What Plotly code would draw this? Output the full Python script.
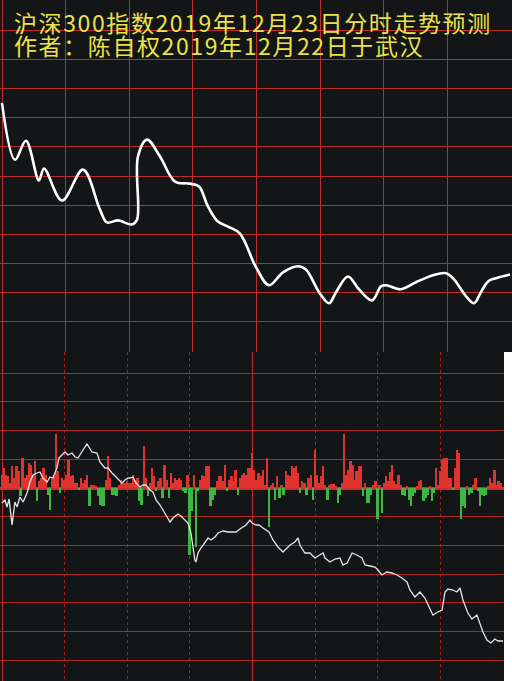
import plotly.graph_objects as go

title_line1 = "沪深300指数2019年12月23日分时走势预测"
title_line2 = "作者：陈自权2019年12月22日于武汉"

# top panel: forecast curve (minutes after 9:30, value in grid units)
forecast_minute = [0, 6.1, 11.3, 17.4, 19.8, 28.3, 38.2, 46.2, 49.5, 54.7,
                   61.3, 63.7, 64.1, 68.4, 74.5, 81.6, 88.6, 92.9, 97.1, 101.8,
                   106.6, 112.2, 119.8, 125.9, 132.5, 139.6, 143.3, 149.5, 154.2, 157.5,
                   163.1, 168.3, 174.5, 178.7, 181.1, 188.1, 195.2, 203.2, 209.4, 213.1,
                   218.8, 222.6, 225.8, 229.2, 232.9, 239.5]
forecast_value = [8.51, 6.56, 7.21, 5.85, 6.26, 5.16, 6.22, 4.85, 4.41, 4.48,
                  4.34, 4.51, 6.67, 7.25, 6.67, 5.81, 5.74, 5.64, 4.96, 4.44,
                  4.27, 4.03, 2.87, 2.26, 2.70, 2.91, 2.80, 2.02, 1.64, 2.02,
                  2.56, 2.12, 1.74, 2.22, 2.26, 2.12, 2.36, 2.60, 2.67, 2.46,
                  1.88, 1.64, 2.02, 2.39, 2.50, 2.63]

# bottom panel: per-minute flow bars (positive red, negative green)
flow_value = [
    13, 20, 13, 12, 5, 22, 10, 22, 17, -8,
    30, 10, 13, 25, 23, 13, 27, -13, 7, 10,
    20, 13, -7, -22, 10, 12, 54, 17, -5, 10,
    8, 13, 28, 12, 13, 5, 5, -2, 10, 5,
    8, 13, -18, 3, 3, 2, -8, -17, -18, -18,
    8, 32, 10, -7, -7, -8, 3, 8, 5, 5,
    7, 5, 5, 13, 8, 10, -13, -17, 42, 10,
    -8, 5, 20, 12, -3, 7, 10, -10, 23, 8,
    -10, 15, 5, 10, 8, 10, 8, -3, -5, 13,
    -67, -23, 13, -59, -3, 8, 13, 12, 22, 22,
    -18, -12, -7, 7, 12, 12, 7, 23, -3, 8,
    12, 7, 18, -7, 10, 13, 15, 13, 20, 20,
    35, 18, 8, 15, 12, 18, 3, 30, -39, 3,
    5, -12, 12, -10, 3, -7, 17, 13, 12, 22,
    20, 22, 15, -5, 7, 5, -7, 10, 13, -12,
    38, 13, 5, 12, 22, 3, -12, 3, 4, 4,
    2, -15, -7, 5, 54, 13, 18, 27, 23, 8,
    17, 22, 22, -8, 5, -15, -15, -7, 3, 7,
    -31, 3, -25, 5, 12, 7, 16, 23, 7, 4,
    13, 3, -7, -8, 2, -12, -18, -8, -5, 2,
    7, 8, -13, -10, -7, 2, -13, -5, 20, 3,
    17, 28, 30, 30, 10, 10, -2, 20, 38, 35,
    -31, -18, -20, 2, -7, -5, 3, 10, -3, -18,
    -7, -8, -7, 2, 10, 5, 18, 3, 7, 5,
]
flow_minute = list(range(len(flow_value)))

# bottom panel: actual index line
idx_minute = [0, 1.4, 2.4, 3.4, 4.8, 6.2, 7.2, 8.6, 10.1, 12,
              13.4, 14.8, 16.8, 18.2, 19.6, 21.6, 23, 24.4, 26.3, 27.3,
              28.7, 30.2, 31.6, 33.5, 35, 36.4, 38.8, 40.7, 43.1, 45.5,
              46.9, 49.3, 50.8, 52.7, 55.1, 57.5, 58.9, 60.4, 61.3, 62.7,
              64.2, 66.1, 67.5, 69, 70.9, 72.3, 73.8, 75.7, 77.1, 78.6,
              80.5, 81.9, 84.3, 85.7, 87.7, 89.1, 90.5, 91.5, 92.4, 92.9,
              93.9, 95.3, 97.2, 98.7, 100.1, 102, 103.5, 105.9, 108.3, 110.6,
              112.1, 114, 115.4, 116.9, 118.8, 119.8, 121.7, 123.1, 125, 126.5,
              127.9, 129.8, 132.2, 134.6, 138, 140.3, 141.8, 142.7, 145.1, 147.5,
              149.9, 151.4, 153.8, 154.7, 157.1, 159.5, 161.9, 163.3, 165.3, 167.7,
              170, 172.4, 173.9, 176.3, 178.7, 180.1, 182, 184.4, 186.8, 189.2,
              191.6, 194, 195.4, 197.8, 200.2, 202.6, 205, 206.4, 208.8, 210.8,
              212.2, 213.6, 216, 217.9, 219.4, 220.8, 223.2, 225.1, 227.5, 229,
              230.4, 232.3, 234.2, 236.1, 237.6, 240]
idx_value = [-15, -12, -19, -11, -37, -14, -19, -9, -14, -5,
             6, 13, 15, 16, 10, 6, 11, 10, 20, 30,
             33, 36, 33, 35, 31, 30, 38, 44, 36, 35,
             26, 20, 20, 15, 10, 5, 8, 10, 10, 11,
             5, 1, 3, 3, -2, -4, -12, -17, -22, -27,
             -34, -30, -26, -28, -32, -35, -45, -60, -72, -74,
             -65, -60, -55, -50, -52, -49, -45, -43, -44, -44,
             -44, -41, -39, -37, -32, -35, -37, -37, -40, -42,
             -44, -52, -59, -64, -57, -54, -50, -57, -65, -65,
             -70, -68, -65, -70, -74, -71, -70, -77, -75, -65,
             -67, -70, -77, -78, -79, -82, -87, -84, -85, -87,
             -90, -94, -102, -109, -104, -110, -120, -127, -124, -122,
             -104, -101, -102, -104, -100, -112, -125, -131, -127, -135,
             -144, -152, -155, -151, -153, -153]

top_grid_minutes = [0, 30, 60, 90, 120, 150, 180, 210, 240]
bottom_dot_minutes = [30, 60, 90, 150, 180, 210]
bottom_solid_minutes = [0, 120, 240]

W, H = 512, 681
split = (H - 352) / H
BG = "#141517"
GRID = "#c0282a"
DARKGRID = "#9a2424"
TITLE_COLOR = "#ebe24a"

bar_colors = ["#e0332e" if v >= 0 else "#3fb543" for v in flow_value]

fig = go.Figure()
fig.add_trace(go.Scatter(
    x=forecast_minute, y=forecast_value, mode="lines",
    line=dict(color="#ffffff", width=2.6, shape="spline", smoothing=1.0),
    xaxis="x", yaxis="y", hoverinfo="skip"))
fig.add_trace(go.Bar(
    x=flow_minute, y=flow_value, width=0.85,
    marker=dict(color=bar_colors, line=dict(width=0)),
    xaxis="x2", yaxis="y2", hoverinfo="skip"))
fig.add_trace(go.Scatter(
    x=idx_minute, y=idx_value, mode="lines",
    line=dict(color="#e4e4e4", width=1.3),
    xaxis="x3", yaxis="y2", hoverinfo="skip"))

xr_top = [-2 * 240 / 509, 510 * 240 / 509]
xr_bot = [-2 * 240 / 501, 502 * 240 / 501]

common = dict(showticklabels=False, ticks="", zeroline=False, showline=False)

fig.update_layout(
    width=W, height=H,
    margin=dict(l=0, r=0, t=0, b=0),
    paper_bgcolor="#ffffff", plot_bgcolor=BG,
    showlegend=False, bargap=0,
    xaxis=dict(domain=[0, 1], anchor="y", range=xr_top,
               tickmode="array", tickvals=top_grid_minutes,
               showgrid=True, gridcolor=GRID, gridwidth=1.4, **common),
    yaxis=dict(domain=[split, 1], anchor="x", range=[-0.03, 12.034],
               tick0=0, dtick=1, showgrid=True, gridcolor=GRID, gridwidth=1.4, **common),
    xaxis2=dict(domain=[0, 504 / W], anchor="y2", range=xr_bot,
                tickmode="array", tickvals=bottom_dot_minutes,
                showgrid=True, gridcolor=DARKGRID, gridwidth=1.2, griddash="dot", **common),
    xaxis3=dict(overlaying="x2", anchor="y2", range=xr_bot,
                tickmode="array", tickvals=bottom_solid_minutes,
                showgrid=True, gridcolor=GRID, gridwidth=1.4, **common),
    yaxis2=dict(domain=[0, split], anchor="x2", range=[-193, 136],
                tick0=0, dtick=28.7, showgrid=True, gridcolor="#b02626", gridwidth=1.4,
                showticklabels=False, ticks="", showline=False,
                zeroline=True, zerolinecolor="#d42c2c", zerolinewidth=3),
    annotations=[
        dict(text=title_line1 + "<br>" + title_line2,
             xref="paper", yref="paper", x=14 / W, y=1 - 8 / H,
             xanchor="left", yanchor="top", align="left", showarrow=False,
             font=dict(family="Noto Sans CJK SC", size=23, color=TITLE_COLOR)),
    ],
)

# page tidy-up: no body margin, tighter title line spacing and letter spacing
post_js = (
    "document.body.style.margin='0';"
    "document.body.style.overflow='hidden';"
    "document.querySelectorAll('.annotation-text').forEach(function(t){"
    "t.setAttribute('text-anchor','start');"
    "t.style.letterSpacing='1.6px';"
    "var ls=t.querySelectorAll('tspan.line');"
    "if(ls.length>1){ls[1].setAttribute('dy','23px');}"
    "var f=ls.length?ls[0]:t;"
    "var r=f.getBoundingClientRect();"
    "var dx=14-r.left, dy=(22-r.height/2)-r.top;"
    "var tr=t.getAttribute('transform')||'';"
    "t.setAttribute('transform',tr+' translate('+dx+','+dy+')');"
    "});"
)

fig.write_html("out.html", config={"displayModeBar": False}, post_script=post_js)
